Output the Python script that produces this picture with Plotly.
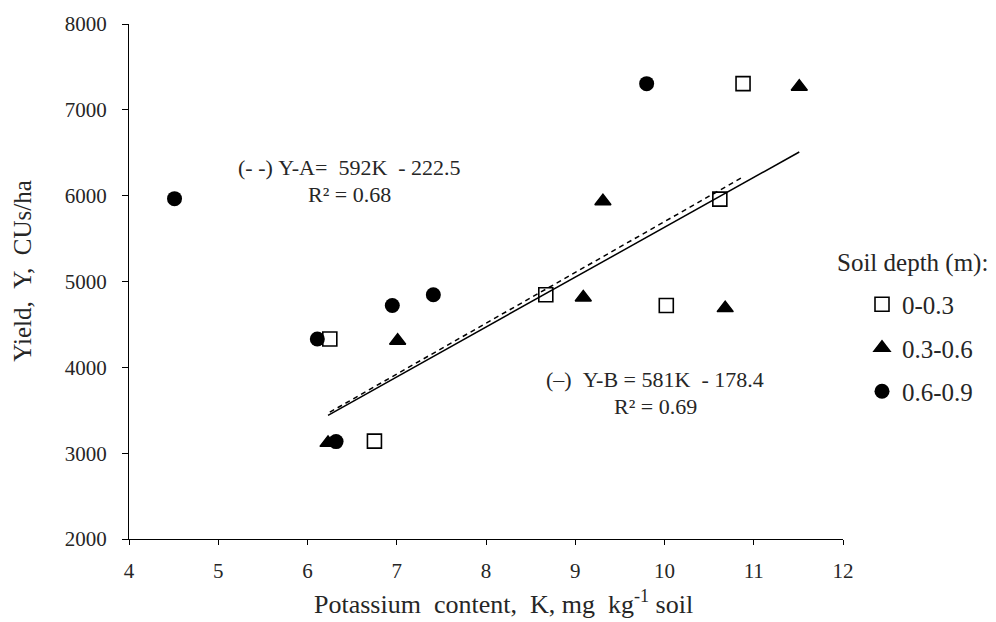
import plotly.graph_objects as go

# ---- data ----
depth_labels = ["0-0.3", "0.3-0.6", "0.6-0.9"]

k_03 = [6.25, 6.75, 8.67, 10.02, 10.62, 10.88]
y_03 = [4330, 3140, 4845, 4720, 5960, 7305]

k_36 = [6.23, 7.01, 9.09, 9.31, 10.68, 11.51]
y_36 = [3120, 4310, 4815, 5935, 4690, 7270]

k_69 = [4.51, 6.11, 6.32, 6.95, 7.41, 9.80]
y_69 = [5965, 4330, 3135, 4720, 4845, 7305]

# regression lines shown on the chart
slope_a, icpt_a = 592.0, -222.5   # dashed (Y-A), fitted over 0-0.3 m
slope_b, icpt_b = 581.0, -178.4   # solid  (Y-B), fitted over 0.3-0.6 m

x_ticks = [4, 5, 6, 7, 8, 9, 10, 11, 12]
y_ticks = [2000, 3000, 4000, 5000, 6000, 7000, 8000]

FONT = "Liberation Serif, Times New Roman, serif"
TXT = "#262626"

fig = go.Figure()

# trend lines
xa = [min(k_03), max(k_03)]
xb = [min(k_36), max(k_36)]
fig.add_trace(go.Scatter(x=xa, y=[slope_a * v + icpt_a for v in xa], mode="lines",
                         line=dict(color="black", width=1.5, dash="5px,4px"),
                         showlegend=False, hoverinfo="skip"))
fig.add_trace(go.Scatter(x=xb, y=[slope_b * v + icpt_b for v in xb], mode="lines",
                         line=dict(color="black", width=1.5),
                         showlegend=False, hoverinfo="skip"))

# markers
fig.add_trace(go.Scatter(x=k_03, y=y_03, mode="markers", name=depth_labels[0],
                         legendgroup="a",
                         marker=dict(symbol="square-open", size=14, color="black",
                                     line=dict(width=1.6, color="black"))))
fig.add_trace(go.Scatter(x=k_36, y=y_36, mode="markers", name=depth_labels[1],
                         legendgroup="b",
                         marker=dict(symbol="triangle-up", size=14, color="black",
                                     line=dict(width=1.5, color="black"))))
fig.add_trace(go.Scatter(x=k_69, y=y_69, mode="markers", name=depth_labels[2],
                         legendgroup="c",
                         marker=dict(symbol="circle", size=15, color="black")))

W, H = 996, 622
ml, mr, mt, mb = 129, 153, 17, 83
pw, ph = W - ml - mr, H - mt - mb

def px(xp):
    return (xp - ml) / pw

def py(yp):
    return (H - mb - yp) / ph

ann = []
# equation labels
ann.append(dict(x=px(349), y=py(162), text="(-\u00a0-)\u00a0Y-A=\u00a0\u00a0592K\u00a0\u00a0-\u00a0222.5"))
ann.append(dict(x=px(349), y=py(190), text="R² = 0.68"))
ann.append(dict(x=px(655), y=py(377), text="(–)\u00a0\u00a0Y-B\u00a0=\u00a0581K\u00a0\u00a0-\u00a0178.4"))
ann.append(dict(x=px(655), y=py(405), text="R² = 0.69"))
for a in ann:
    a.update(xref="paper", yref="paper", xanchor="center", yanchor="middle",
             showarrow=False, font=dict(family=FONT, size=22, color=TXT))

# axis titles
ann.append(dict(x=px(503), y=py(603), xref="paper", yref="paper", showarrow=False,
                xanchor="center", yanchor="middle",
                text="Potassium\u00a0\u00a0content,\u00a0\u00a0K,\u00a0mg\u00a0\u00a0kg<sup>-1</sup>\u00a0soil",
                font=dict(family=FONT, size=26, color=TXT)))
ann.append(dict(x=px(23), y=py(267), xref="paper", yref="paper", showarrow=False,
                xanchor="center", yanchor="middle", textangle=-90,
                text="Yield,\u00a0\u00a0Y,\u00a0\u00a0CUs/ha",
                font=dict(family=FONT, size=25, color=TXT)))
# legend title
ann.append(dict(x=px(835), y=py(259), xref="paper", yref="paper", showarrow=False,
                xanchor="left", yanchor="middle", text="Soil depth (m):",
                font=dict(family=FONT, size=25, color=TXT)))

fig.update_layout(
    width=W, height=H,
    margin=dict(l=ml, r=mr, t=mt, b=mb, pad=0),
    paper_bgcolor="white", plot_bgcolor="white",
    font=dict(family=FONT, size=22, color=TXT),
    annotations=ann,
    legend=dict(x=px(862), y=py(278), xanchor="left", yanchor="top",
                font=dict(family=FONT, size=25, color=TXT),
                tracegroupgap=8, itemwidth=30, bgcolor="rgba(0,0,0,0)"),
    xaxis=dict(range=[4, 12], tickvals=x_ticks, ticktext=[str(v) for v in x_ticks],
               showgrid=False, zeroline=False, showline=True, linecolor="black",
               linewidth=1.3, ticks="outside", ticklen=5, tickwidth=1.3,
               tickcolor="black", ticklabelstandoff=8,
               tickfont=dict(family=FONT, size=21, color=TXT)),
    yaxis=dict(range=[2000, 8000], tickvals=y_ticks, ticktext=[str(v) for v in y_ticks],
               showgrid=False, zeroline=False, showline=True, linecolor="black",
               linewidth=1.3, ticks="outside", ticklen=6, tickwidth=1.3,
               tickcolor="black", ticklabelstandoff=11,
               tickfont=dict(family=FONT, size=21, color=TXT)),
)

fig.write_html("out.html",
               config={"displayModeBar": False},
               post_script="document.body.style.margin='0px';document.body.style.overflow='hidden';")
